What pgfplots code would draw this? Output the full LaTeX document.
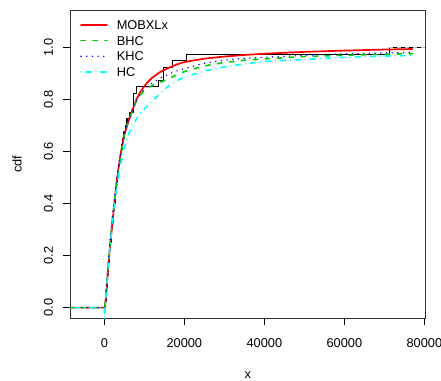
\documentclass[border=0pt]{standalone}
\usepackage{fontspec}
\setmainfont{Liberation Sans}
\usepackage{pgfplots}
\pgfplotsset{compat=1.18}
\definecolor{rgreen}{HTML}{00CD00}
\definecolor{rcyan}{HTML}{00FFFF}
\definecolor{rblue}{HTML}{0000FF}
\definecolor{rred}{HTML}{FF0000}
\begin{document}
\begin{tikzpicture}[font=\fontsize{12.8}{15}\selectfont]
\begin{axis}[
  at={(0,0)}, anchor=south west,
  scale only axis, width=355.7pt, height=307.7pt,
  xmin=-8580, xmax=80340, ymin=-0.04, ymax=1.144,
  axis line style={black!80, line width=0.8pt},
  tick align=outside, major tick length=7pt,
  tick style={black, line width=0.8pt},
  xtick pos=bottom, ytick pos=left,
  xtick={0,20000,40000,60000,80000},
  ytick={0,0.2,0.4,0.6,0.8,1.0},
  scaled x ticks=false, scaled y ticks=false,
  /pgf/number format/assume math mode=true,
  xticklabel style={/pgf/number format/1000 sep={}, anchor=north, inner sep=0pt, yshift=-13pt},
  yticklabel style={/pgf/number format/fixed, /pgf/number format/fixed zerofill, /pgf/number format/precision=1, xshift=-9.7pt, rotate=90, anchor=south, inner sep=0pt},
  xlabel={x}, ylabel={cdf},
  every axis x label/.style={at={(axis description cs:0.5,0)}, anchor=center, yshift=-57pt},
  every axis y label/.style={at={(axis description cs:0,0.5)}, xshift=-53pt, rotate=90, anchor=center},
  legend style={draw=none, fill=none, inner sep=0pt, at={(axis description cs:0,1)}, anchor=north west, xshift=10pt, yshift=-10pt, row sep=6.4pt, nodes={inner sep=0pt, text height=9.2pt, text depth=0pt}, /tikz/every odd column/.append style={column sep=9pt}},
  legend cell align=left,
  legend image code/.code={\draw[#1, line width=1.6pt] (0pt,0pt) -- (26pt,0pt);},
  every axis plot/.append style={line cap=round, line join=round},
]
% empirical cdf (n = 40)
\addplot[forget plot, black, line width=1.4pt, const plot mark left] coordinates {
(350,0.025) (450,0.05) (560,0.075) (680,0.1) (800,0.125) (930,0.15) (1070,0.175) (1210,0.2)
(1360,0.225) (1520,0.25) (1680,0.275) (1840,0.3) (2000,0.325) (2160,0.35) (2320,0.375) (2480,0.4)
(2650,0.425) (2820,0.45) (3000,0.475) (3180,0.5) (3370,0.525) (3570,0.55) (3800,0.575) (4050,0.6)
(4300,0.625) (4600,0.65) (4900,0.675) (5250,0.7) (5650,0.725) (6300,0.75) (7300,0.825)
(8100,0.85) (13500,0.875) (14800,0.925) (17100,0.95) (20600,0.975) (71250,0.975) (71250,1.0)};
\addplot[forget plot, black, line width=1.4pt] coordinates {(-8580,0) (350,0)};
\addplot[forget plot, black, line width=1.4pt] coordinates {(71250,1) (80340,1)};
\addplot[forget plot, white!85!black, line width=1.4pt, dash pattern=on 4pt off 4pt, line cap=butt] coordinates {(-8580,0) (350,0)};
\addplot[forget plot, gray!50, line width=1.4pt, dash pattern=on 4pt off 4pt, line cap=butt] coordinates {(71250,1) (80340,1)};
% MOBXLx
\addplot[rred, line width=1.7pt] coordinates {
(-8580,0) (0,0) (200,0.005) (500,0.06) (1000,0.16) (1500,0.245) (2000,0.325) (2500,0.40) (3000,0.47)
(3500,0.53) (4000,0.585) (5000,0.665) (6000,0.715) (7000,0.76) (8000,0.80) (9000,0.83) (10000,0.852)
(11000,0.87) (12000,0.885) (14000,0.907) (16000,0.922) (18000,0.935) (20000,0.945) (25000,0.958)
(30000,0.966) (35000,0.972) (40000,0.977) (50000,0.984) (60000,0.989) (70000,0.993) (77000,0.995)};
\addlegendentry{MOBXLx}
% BHC
\addplot[rgreen, line width=1.6pt, dash pattern=on 4.5pt off 7.5pt] coordinates {
(-8580,0) (0,0) (200,0.01) (500,0.07) (1000,0.17) (1500,0.255) (2000,0.335) (2500,0.405) (3000,0.47)
(3500,0.525) (4000,0.575) (5000,0.665) (6000,0.715) (7000,0.757) (8000,0.795) (9000,0.818) (10000,0.835)
(12000,0.855) (14000,0.867) (16000,0.88) (18000,0.895) (20000,0.908) (25000,0.93) (30000,0.943)
(35000,0.952) (40000,0.957) (50000,0.966) (60000,0.971) (70000,0.975) (77000,0.977)};
\addlegendentry{BHC}
% KHC
\addplot[rblue, line width=1.6pt, dash pattern=on 0pt off 5.7pt] coordinates {
(-8580,0) (0,0) (200,0.015) (500,0.08) (1000,0.185) (1500,0.27) (2000,0.35) (2500,0.42) (3000,0.48)
(3500,0.535) (4000,0.585) (5000,0.668) (6000,0.72) (7000,0.76) (8000,0.795) (9000,0.82) (10000,0.84)
(12000,0.865) (14000,0.883) (16000,0.898) (18000,0.91) (20000,0.92) (25000,0.94) (30000,0.952)
(35000,0.959) (40000,0.963) (50000,0.971) (60000,0.976) (70000,0.98) (77000,0.982)};
\addlegendentry{KHC}
% HC
\addplot[rcyan, line width=1.6pt, dash pattern=on 0pt off 5pt on 5pt off 5pt] coordinates {
(-8580,0) (-1,0) (0,-0.3) (200,0.01) (500,0.06) (1000,0.16) (1500,0.245) (2000,0.32) (2500,0.39) (3000,0.45)
(3500,0.5) (4000,0.545) (5000,0.615) (6000,0.665) (7000,0.698) (8000,0.725) (9000,0.748) (10000,0.765)
(11000,0.779) (12000,0.795) (14000,0.825) (16000,0.852) (18000,0.872) (20000,0.887) (25000,0.91)
(30000,0.926) (35000,0.938) (40000,0.947) (50000,0.955) (60000,0.963) (70000,0.968) (77000,0.97)};
\addlegendentry{HC}
\end{axis}
\pgfresetboundingbox
\path[use as bounding box] (-70pt,-62pt) rectangle (371pt,318pt);
\end{tikzpicture}
\end{document}
